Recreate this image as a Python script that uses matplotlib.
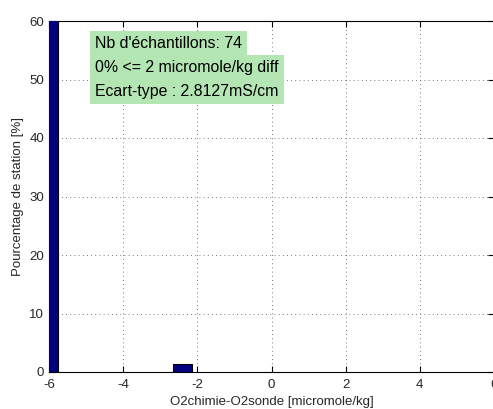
import matplotlib
matplotlib.use("Agg")
import matplotlib.pyplot as plt
import numpy as np

# histogramme des differences O2 chimie - O2 sonde
bin_centers = [-6.0, -2.4]
percentages = [98.65, 1.35]
bar_width = 0.49

info_lines = [
    "Nb d'échantillons: 74",
    "0% <= 2 micromole/kg diff",
    "Ecart-type : 2.8127mS/cm",
]
info_y = [56.1, 52.05, 48.0]

xticks = [-6, -4, -2, 0, 2, 4, 6]
yticks = [0, 10, 20, 30, 40, 50, 60]

plt.rcParams['font.family'] = ['Liberation Sans', 'DejaVu Sans']
plt.rcParams['axes.unicode_minus'] = False

fig = plt.figure(figsize=(4.93, 4.09), dpi=100)
ax = fig.add_axes([49 / 493, 1 - 372 / 409, 445 / 493, 351 / 409])

ax.bar(bin_centers, percentages, width=bar_width, color='#000080',
       edgecolor='black', linewidth=0.8, zorder=3)

ax.set_xlim(-6, 6)
ax.set_ylim(0, 60)
ax.set_xticks(xticks)
ax.set_yticks(yticks)
ax.tick_params(direction='in', top=True, right=True, labelsize=9.5,
               labelcolor='#262626', length=4, width=0.8)
ax.tick_params(axis='x', pad=5)
ax.grid(True, linestyle=(0, (1, 4)), color='#505050', linewidth=0.6, zorder=0)
for s in ax.spines.values():
    s.set_linewidth(0.8)

ax.set_xlabel("O2chimie-O2sonde [micromole/kg]", fontsize=9.5, color='#262626', labelpad=4)
ax.set_ylabel("Pourcentage de station [%]", fontsize=9.5, color='#262626', labelpad=4)

# encadre d'info, une boite par ligne
for txt, y in zip(info_lines, info_y):
    ax.text(-4.76, y, txt, fontsize=11.4, va='center', ha='left', zorder=5,
            bbox=dict(boxstyle='square,pad=0.33', facecolor='#b3e6b3', edgecolor='none'))

fig.savefig("out.png", dpi=100)
